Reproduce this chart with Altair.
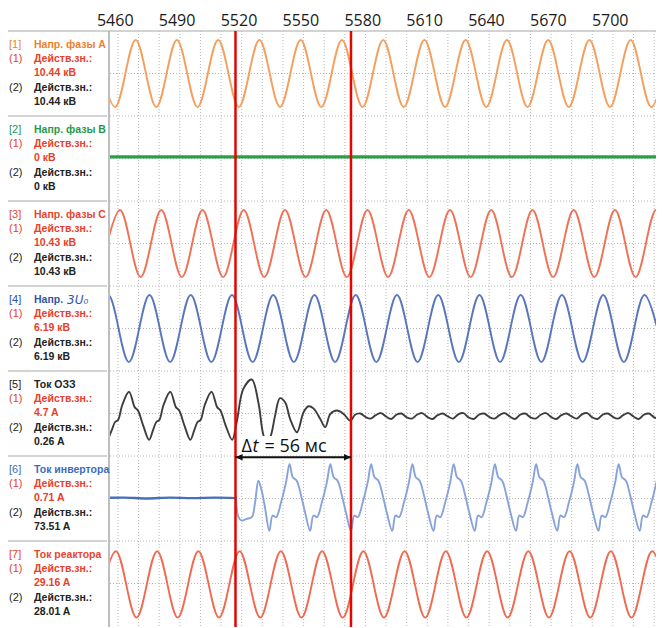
import altair as alt
import pandas as pd

# ---------------- axis / cursor data ----------------
TICKS = [5460, 5490, 5520, 5550, 5580, 5610, 5640, 5670, 5700]
GRID_T = [5463, 5473, 5483, 5493, 5503, 5513, 5523, 5533, 5543, 5553, 5563, 5573,
          5583, 5593, 5603, 5613, 5623, 5633, 5643, 5653, 5663, 5673, 5683, 5693,
          5703, 5713, 5723]
CURSORS = [5520, 5576]
DELTA_PARTS = ["Δ", "t", "= 56 мс"]

# ---------------- channel captions ----------------
CH_NUM = ["[1]", "[2]", "[3]", "[4]", "[5]", "[6]", "[7]"]
CH_NAME = ["Напр. фазы A", "Напр. фазы B", "Напр. фазы C", "Напр.",
           "Ток ОЗЗ", "Ток инвертора", "Ток реактора"]
CH_SYMBOL = ["", "", "", "3U₀", "", "", ""]
RMS1 = ["10.44 кВ", "0 кВ", "10.43 кВ", "6.19 кВ", "4.7 A", "0.71 A", "29.16 A"]
RMS2 = ["10.44 кВ", "0 кВ", "10.43 кВ", "6.19 кВ", "0.26 A", "73.51 A", "28.01 A"]
NAME_COLOR = ["#F07F2A", "#1E9A48", "#E8462F", "#2F56A6", "#222222", "#3D6BC0", "#E8462F"]

# ---------------- waveforms (display units, +-1 = half a band) ----------------
A_T = [5451.6, 5461.6, 5471.6, 5481.6, 5491.6, 5501.6, 5511.6, 5521.6, 5531.6, 5541.6,
       5551.6, 5561.6, 5571.6, 5581.6, 5591.6, 5601.6, 5611.6, 5621.6, 5631.6, 5641.6,
       5651.6, 5661.6, 5671.6, 5681.6, 5691.6, 5701.6, 5711.6, 5721.6, 5731.6]
A_V = [0.79, -0.79, 0.79, -0.79, 0.79, -0.79, 0.79, -0.79, 0.79, -0.79,
       0.79, -0.79, 0.79, -0.79, 0.79, -0.79, 0.79, -0.79, 0.79, -0.79,
       0.79, -0.79, 0.79, -0.79, 0.79, -0.79, 0.79, -0.79, 0.79]

B_T = [5455, 5730]
B_V = [0.04, 0.04]

C_T = [5454, 5464, 5474, 5484, 5494, 5504, 5514, 5524, 5534, 5544,
       5554, 5564, 5574, 5584, 5594, 5604, 5614, 5624, 5634, 5644,
       5654, 5664, 5674, 5684, 5694, 5704, 5714, 5724, 5734]
C_V = [-0.79, 0.79, -0.79, 0.79, -0.79, 0.79, -0.79, 0.79, -0.79, 0.79,
       -0.79, 0.79, -0.79, 0.79, -0.79, 0.79, -0.79, 0.79, -0.79, 0.79,
       -0.79, 0.79, -0.79, 0.79, -0.79, 0.79, -0.79, 0.79, -0.79]

U0_T = [5448.3, 5458.3, 5468.3, 5478.3, 5488.3, 5498.3, 5508.3, 5518.3, 5528.3, 5538.3,
        5548.3, 5558.3, 5568.3, 5578.3, 5588.3, 5598.3, 5608.3, 5618.3, 5628.3, 5638.3,
        5648.3, 5658.3, 5668.3, 5678.3, 5688.3, 5698.3, 5708.3, 5718.3, 5728.3]
U0_V = [-0.79, 0.79, -0.79, 0.79, -0.79, 0.79, -0.79, 0.79, -0.79, 0.79,
        -0.79, 0.79, -0.79, 0.79, -0.79, 0.79, -0.79, 0.79, -0.79, 0.79,
        -0.79, 0.79, -0.79, 0.79, -0.79, 0.79, -0.79, 0.79, -0.79]

OZZ_T = [5458.1, 5460.1, 5461.6, 5463.1, 5465.1, 5468.4, 5471.1, 5472.7, 5475.3,
         5478.1, 5480.1, 5481.6, 5483.1, 5485.1, 5488.4, 5491.1, 5492.7, 5495.3,
         5498.1, 5500.1, 5501.6, 5503.1, 5505.1, 5508.4, 5511.1, 5512.7, 5515.3,
         5518.4, 5520.6, 5523.8, 5527.9, 5531.1, 5533.5, 5535.5, 5537.6, 5539.2,
         5541.6, 5544.1, 5546.5, 5549.8, 5553.0, 5555.4, 5557.8, 5561.1, 5563.5,
         5566.0, 5569.2, 5572.4, 5575.7,
         5578.0, 5580.5, 5583.0, 5585.5, 5588.0, 5590.5, 5593.0, 5595.5, 5598.0,
         5600.5, 5603.0, 5605.5, 5608.0, 5610.5, 5613.0, 5615.5, 5618.0, 5620.5,
         5623.0, 5625.5, 5628.0, 5630.5, 5633.0, 5635.5, 5638.0, 5640.5, 5643.0,
         5645.5, 5648.0, 5650.5, 5653.0, 5655.5, 5658.0, 5660.5, 5663.0, 5665.5,
         5668.0, 5670.5, 5673.0, 5675.5, 5678.0, 5680.5, 5683.0, 5685.5, 5688.0,
         5690.5, 5693.0, 5695.5, 5698.0, 5700.5, 5703.0, 5705.5, 5708.0, 5710.5,
         5713.0, 5715.5, 5718.0, 5720.5, 5723.0, 5725.5]
OZZ_V = [-0.62, -0.38, -0.20, -0.15, 0.20, 0.51, 0.15, 0.07, -0.29,
         -0.62, -0.38, -0.20, -0.15, 0.20, 0.51, 0.15, 0.07, -0.29,
         -0.62, -0.38, -0.20, -0.15, 0.20, 0.51, 0.15, 0.07, -0.29,
         -0.62, -0.20, 0.58, 0.80, 0.26, -0.50, -0.72, -0.44, -0.05,
         0.36, 0.26, -0.13, -0.44, 0.03, 0.17, 0.12, -0.13, -0.32,
         -0.01, 0.07, -0.01, -0.17,
         -0.03, 0.00, -0.08, -0.12, -0.04, 0.01, -0.07, -0.13, -0.03,
         0.00, -0.09, -0.12, -0.03, 0.01, -0.08, -0.13, -0.04, 0.00,
         -0.07, -0.12, -0.02, 0.01, -0.09, -0.13, -0.03, 0.00, -0.08,
         -0.12, -0.04, 0.01, -0.07, -0.13, -0.03, 0.00, -0.09, -0.12,
         -0.03, 0.01, -0.08, -0.13, -0.04, 0.00, -0.07, -0.12, -0.02,
         0.01, -0.09, -0.13, -0.03, 0.00, -0.08, -0.12, -0.04, 0.01,
         -0.07, -0.13, -0.03, 0.00, -0.09, -0.12]

INV0_T = [5455.0, 5466.0, 5477.0, 5488.0, 5499.0, 5510.0, 5520.2]
INV0_V = [0.01, 0.02, 0.00, 0.02, 0.01, 0.02, 0.01]

INV_T = [5520.2, 5521.4, 5523.0, 5525.4, 5527.9, 5529.5, 5531.1, 5532.7, 5534.3, 5536.4,
         5538.0, 5539.7, 5542.1, 5544.5, 5546.2, 5547.8, 5549.7, 5551.8, 5553.9, 5556.2,
         5557.8, 5559.5, 5561.9, 5564.3, 5566.0, 5567.6, 5569.5, 5571.6, 5573.7, 5576.0,
         5577.6, 5579.3, 5581.7, 5584.1, 5585.8, 5587.4, 5589.3, 5591.4, 5593.5, 5596.0,
         5597.6, 5599.3, 5601.7, 5604.1, 5605.8, 5607.4, 5609.3, 5611.4, 5613.5, 5616.0,
         5617.6, 5619.3, 5621.7, 5624.1, 5625.8, 5627.4, 5629.3, 5631.4, 5633.5, 5636.0,
         5637.6, 5639.3, 5641.7, 5644.1, 5645.8, 5647.4, 5649.3, 5651.4, 5653.5, 5656.0,
         5657.6, 5659.3, 5661.7, 5664.1, 5665.8, 5667.4, 5669.3, 5671.4, 5673.5, 5676.0,
         5677.6, 5679.3, 5681.7, 5684.1, 5685.8, 5687.4, 5689.3, 5691.4, 5693.5, 5696.0,
         5697.6, 5699.3, 5701.7, 5704.1, 5705.8, 5707.4, 5709.3, 5711.4, 5713.5, 5716.0,
         5717.6, 5719.3, 5721.7, 5724.1, 5725.8]
INV_V = [0.00, -0.43, -0.52, -0.48, -0.44, -0.09, 0.42, 0.18, -0.21, -0.76,
         -0.40, -0.44, -0.09, 0.38, 0.81, 0.50, 0.42, 0.07, -0.36, -0.76,
         -0.40, -0.44, -0.09, 0.38, 0.81, 0.50, 0.42, 0.07, -0.36, -0.76,
         -0.40, -0.44, -0.09, 0.38, 0.81, 0.50, 0.42, 0.07, -0.36, -0.76,
         -0.40, -0.44, -0.09, 0.38, 0.81, 0.50, 0.42, 0.07, -0.36, -0.76,
         -0.40, -0.44, -0.09, 0.38, 0.81, 0.50, 0.42, 0.07, -0.36, -0.76,
         -0.40, -0.44, -0.09, 0.38, 0.81, 0.50, 0.42, 0.07, -0.36, -0.76,
         -0.40, -0.44, -0.09, 0.38, 0.81, 0.50, 0.42, 0.07, -0.36, -0.76,
         -0.40, -0.44, -0.09, 0.38, 0.81, 0.50, 0.42, 0.07, -0.36, -0.76,
         -0.40, -0.44, -0.09, 0.38, 0.81, 0.50, 0.42, 0.07, -0.36, -0.76,
         -0.40, -0.44, -0.09, 0.38, 0.81]

R_T = [5452, 5462, 5472, 5482, 5492, 5502, 5512, 5522, 5532, 5542,
       5552, 5562, 5572, 5582, 5592, 5602, 5612, 5622, 5632, 5642,
       5652, 5662, 5672, 5682, 5692, 5702, 5712, 5722, 5732]
R_V = [-0.8, 0.76, -0.8, 0.76, -0.8, 0.76, -0.8, 0.76, -0.8, 0.76,
       -0.8, 0.76, -0.8, 0.76, -0.8, 0.76, -0.8, 0.76, -0.8, 0.76,
       -0.8, 0.76, -0.8, 0.76, -0.8, 0.76, -0.8, 0.76, -0.8]

SERIES = [
    ("A", 0, A_T, A_V, "#F39A55", 1.9),
    ("B", 1, B_T, B_V, "#1E9A3C", 3.2),
    ("C", 2, C_T, C_V, "#EE6A4D", 1.9),
    ("U0", 3, U0_T, U0_V, "#4E6FB8", 1.9),
    ("OZZ", 4, OZZ_T, OZZ_V, "#333333", 1.9),
    ("INV0", 5, INV0_T, INV0_V, "#3E67B9", 2.4),
    ("INV", 5, INV_T, INV_V, "#7F9ED8", 1.9),
    ("R", 6, R_T, R_V, "#EE6248", 1.9),
]

# ---------------- layout ----------------
BAND = 85
W = 546
H = 596
LEFT = 102
X_DOM = [5459.15, 5723.9]
Y_DOM = [0, H / BAND]

xenc = alt.X("t:Q", title=None,
             scale=alt.Scale(domain=X_DOM, nice=False, zero=False),
             axis=alt.Axis(orient="top", values=TICKS, format="d", ticks=False,
                           domain=False, grid=False, labelFontSize=16,
                           labelFont="Open Sans", labelColor="#1a1a1a",
                           labelPadding=3, labelOffset=3, labelFlush=False))
yscale = alt.Scale(domain=Y_DOM, reverse=True, nice=False, zero=False)


def yfield(name):
    return alt.Y(name, type="quantitative", scale=yscale, axis=None, title=None)


layers = []

# vertical dotted grid
gdf = pd.DataFrame({"t": GRID_T, "y0": [0.0] * len(GRID_T), "y1": [Y_DOM[1]] * len(GRID_T)})
layers.append(alt.Chart(gdf).mark_rule(color="#b8b8b8", strokeDash=[1, 2], strokeWidth=1)
              .encode(x=xenc, y=yfield("y0"), y2="y1:Q"))

# horizontal dotted grid (band boundaries and centres)
hlines = [i * 0.5 for i in range(1, 14)]
layers.append(alt.Chart(pd.DataFrame({"b": hlines})).mark_rule(
    color="#b8b8b8", strokeDash=[1, 2], strokeWidth=1
).encode(y=yfield("b"), x=alt.value(0), x2=alt.value(W)))

# caption panel separators + top border + left border of the plot
layers.append(alt.Chart(pd.DataFrame({"b": [1, 2, 3, 4, 5, 6]})).mark_rule(
    color="#c4c4c4", strokeWidth=1.5
).encode(y=yfield("b"), x=alt.value(-LEFT), x2=alt.value(-3)))
layers.append(alt.Chart(pd.DataFrame({"b": [0]})).mark_rule(
    color="#c4c4c4", strokeWidth=1.5
).encode(y=yfield("b"), x=alt.value(-LEFT), x2=alt.value(W)))
layers.append(alt.Chart(pd.DataFrame({"y0": [0.0], "y1": [Y_DOM[1]]})).mark_rule(
    color="#a8a8a8", strokeWidth=1.5
).encode(x=alt.value(-1), y=yfield("y0"), y2="y1:Q"))

# waveforms, one layer per series
for key, ch, ts, vs, col, w in SERIES:
    df = pd.DataFrame({"t": ts, "v": vs})
    df["y"] = ch + 0.5 - df["v"] / 2
    layers.append(alt.Chart(df).mark_line(
        interpolate="catmull-rom", clip=True, color=col, strokeWidth=w,
        strokeCap="round", strokeJoin="round", opacity=0.95
    ).encode(x=xenc, y=yfield("y"), order="t:Q"))

# cursors
cdf = pd.DataFrame({"t": CURSORS, "y0": [0.0, 0.0], "y1": [Y_DOM[1]] * 2})
layers.append(alt.Chart(cdf).mark_rule(color="#E10600", strokeWidth=2.5).encode(
    x=xenc, y=yfield("y0"), y2="y1:Q"))

# delta-t annotation: white box, arrow, text
ARROW_Y = (457.3 - 31) / BAND
TEXT_Y = (447.0 - 31) / BAND
BOX = {"t": [CURSORS[0] + 2.2], "t2": [CURSORS[0] + 47.3],
       "y": [(436 - 31) / BAND], "y2": [(455 - 31) / BAND]}
layers.append(alt.Chart(pd.DataFrame(BOX)).mark_rect(color="white", opacity=1).encode(
    x=xenc, x2="t2:Q", y=yfield("y"), y2="y2:Q"))
layers.append(alt.Chart(pd.DataFrame({"t": [CURSORS[0]], "t2": [CURSORS[1]], "y": [ARROW_Y]}))
              .mark_rule(color="#111111", strokeWidth=2)
              .encode(x=xenc, x2="t2:Q", y=yfield("y")))
layers.append(alt.Chart(pd.DataFrame({"t": [CURSORS[0]], "y": [ARROW_Y]})).mark_point(
    shape="M0,0 L2,-0.9 L2,0.9 Z", filled=True, color="#111111", opacity=1, size=50
).encode(x=xenc, y=yfield("y")))
layers.append(alt.Chart(pd.DataFrame({"t": [CURSORS[1]], "y": [ARROW_Y]})).mark_point(
    shape="M0,0 L-2,-0.9 L-2,0.9 Z", filled=True, color="#111111", opacity=1, size=50
).encode(x=xenc, y=yfield("y")))
for part, dx, style in ((DELTA_PARTS[0], 6, "normal"), (DELTA_PARTS[1], 17, "italic"),
                        (DELTA_PARTS[2], 29, "normal")):
    layers.append(alt.Chart(pd.DataFrame({"t": [CURSORS[0]], "y": [TEXT_Y], "txt": [part]})).mark_text(
        fontSize=18, font="Open Sans", fontStyle=style, color="#111111", dx=dx,
        align="left", baseline="middle"
    ).encode(x=xenc, y=yfield("y"), text="txt:N"))

# captions
OFFS = [14, 28, 42, 57, 71]
cap = []
for i in range(7):
    cap.append({"ch": i, "k": 0, "col": 0, "txt": CH_NUM[i], "c": NAME_COLOR[i]})
    cap.append({"ch": i, "k": 0, "col": 1, "txt": CH_NAME[i], "c": NAME_COLOR[i]})
    cap.append({"ch": i, "k": 1, "col": 0, "txt": "(1)", "c": "#E8402A"})
    cap.append({"ch": i, "k": 1, "col": 1, "txt": "Действ.зн.:", "c": "#E8402A"})
    cap.append({"ch": i, "k": 2, "col": 1, "txt": RMS1[i], "c": "#E8402A"})
    cap.append({"ch": i, "k": 3, "col": 0, "txt": "(2)", "c": "#222222"})
    cap.append({"ch": i, "k": 3, "col": 1, "txt": "Действ.зн.:", "c": "#222222"})
    cap.append({"ch": i, "k": 4, "col": 1, "txt": RMS2[i], "c": "#222222"})
capdf = pd.DataFrame(cap)
capdf["y"] = capdf["ch"] + capdf["k"].map(lambda k: OFFS[k] / BAND)

for colr in capdf["c"].unique():
    for colidx, xoff, weight, fsize in ((0, -LEFT + 1, "normal", 11), (1, -LEFT + 26, "bold", 10.5)):
        sub = capdf[(capdf["c"] == colr) & (capdf["col"] == colidx)]
        if len(sub) == 0:
            continue
        layers.append(alt.Chart(sub[["y", "txt"]]).mark_text(
            align="left", baseline="middle", font="Liberation Sans", fontSize=fsize,
            fontWeight=weight, color=colr
        ).encode(x=alt.value(xoff), y=yfield("y"), text="txt:N"))

# italic symbol after "Напр." in channel 4
sym = pd.DataFrame({"y": [i + OFFS[0] / BAND for i in range(7) if CH_SYMBOL[i]],
                    "txt": [s for s in CH_SYMBOL if s]})
layers.append(alt.Chart(sym).mark_text(
    align="left", baseline="middle", font="DejaVu Sans", fontSize=12, fontStyle="italic",
    color=NAME_COLOR[3]
).encode(x=alt.value(-LEFT + 59), y=yfield("y"), text="txt:N"))

chart = alt.layer(*layers).properties(
    width=W, height=H,
    padding={"left": LEFT, "top": 23, "right": 0, "bottom": 0},
    autosize=alt.AutoSizeParams(type="none"),
).configure_view(stroke=None)

chart.save("out.html", embed_options={"renderer": "svg", "actions": False})
